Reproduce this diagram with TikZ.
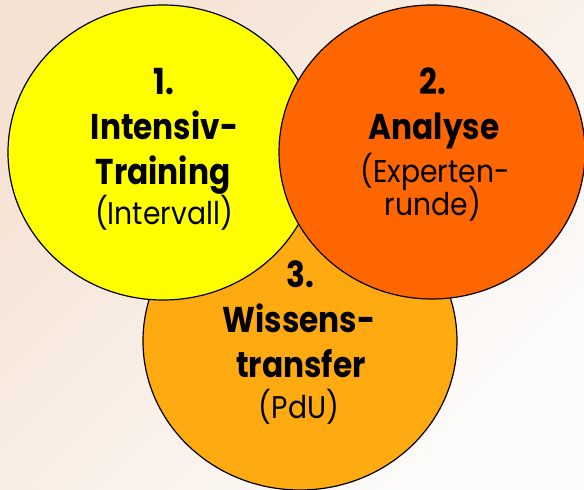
\documentclass[tikz,border=0pt]{standalone}
\usepackage{fontspec}
\setmainfont{Poppins}
\newfontfamily\boldfam{Poppins}[FakeStretch=0.87]
\newfontfamily\lightfam{Poppins}[FakeStretch=0.9]
\usetikzlibrary{shapes.geometric}
\definecolor{cyellow}{HTML}{FFFF00}
\definecolor{cred}{HTML}{FF6600}
\definecolor{corange}{HTML}{FFAA10}
\definecolor{bgpeach}{HTML}{F5E2D3}
\definecolor{bgwhite}{HTML}{FDFCFB}
\begin{document}
\begin{tikzpicture}[x=1bp,y=-1bp,
  blob/.style={ellipse, draw=black, line width=1.2bp, inner sep=0pt},
  boldtxt/.style={font=\fontsize{36}{36}\boldfam\bfseries, anchor=base, inner sep=0pt},
  lighttxt/.style={font=\fontsize{31.5}{31.5}\lightfam, anchor=base, inner sep=0pt}]
\useasboundingbox (0,0) rectangle (584,490);
\shade[top color=bgpeach, bottom color=bgwhite, shading angle=45] (0,0) rectangle (584,490);
% circles
\node[blob, fill=corange, minimum width=314bp, minimum height=298bp] (c3) at (300,341) {};
\node[blob, fill=cyellow, minimum width=310bp, minimum height=295bp] (c1) at (163,152.5) {};
\node[blob, fill=cred, minimum width=306bp, minimum height=294bp] (c2) at (432,152) {};
% texts
\node[boldtxt] (n1) at (164,95) {1.};
\node[boldtxt] (t1a) at (164.5,140) {Intensiv-};
\node[boldtxt] (t1b) at (163,185) {Training};
\node[lighttxt] (t1c) at (164,225) {(Intervall)};
\node[boldtxt] (n2) at (433,95) {2.};
\node[boldtxt] (t2a) at (434,140) {Analyse};
\node[lighttxt] (t2b) at (435,183) {(Experten-};
\node[lighttxt] (t2c) at (433,216) {runde)};
\node[boldtxt] (n3) at (300,287) {3.};
\node[boldtxt] (t3a) at (299,332) {Wissens-};
\node[boldtxt] (t3b) at (301,377) {transfer};
\node[lighttxt] (t3c) at (299,418) {(PdU)};
\end{tikzpicture}
\end{document}
